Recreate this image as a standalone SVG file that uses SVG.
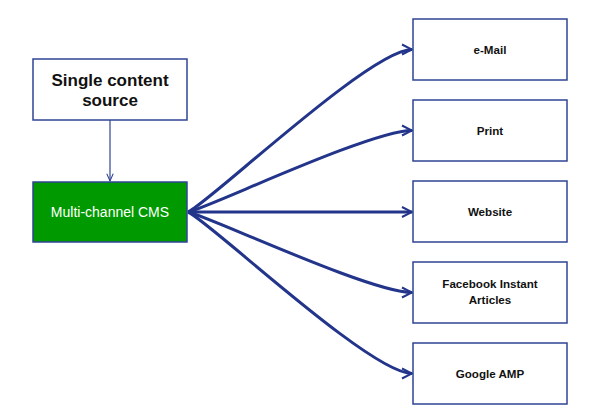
<svg xmlns="http://www.w3.org/2000/svg" width="600" height="420" viewBox="0 0 600 420">
<style>
.box{fill:#ffffff;stroke:#2f4494;stroke-width:1.5}
.cms{fill:#009a00;stroke:#2f4494;stroke-width:1.5}
.t{font-family:"Liberation Sans",Arial,sans-serif;font-weight:bold;fill:#111;text-anchor:middle}
.big{font-size:17px}
.sm{font-size:11.6px}
.wt{font-family:"Liberation Sans",Arial,sans-serif;font-size:14px;fill:#ffffff;text-anchor:middle}
.thick{fill:none;stroke:#23358a;stroke-width:3}
.thin{fill:none;stroke:#2f4494;stroke-width:1.2}
</style>
<defs>
<marker id="ah" viewBox="0 0 12 12" refX="11" refY="6" markerWidth="4" markerHeight="5" markerUnits="strokeWidth" orient="auto">
<path d="M1,1 L11,6 L1,11" fill="none" stroke="#23358a" stroke-width="2"/>
</marker>
<marker id="ah2" viewBox="0 0 12 12" refX="11" refY="6" markerWidth="8" markerHeight="8" markerUnits="strokeWidth" orient="auto">
<path d="M2,2 L11,6 L2,10" fill="none" stroke="#2f4494" stroke-width="1.3"/>
</marker>
</defs>
<g id="connectors">
<path class="thin" d="M110,120 L110,181" marker-end="url(#ah2)"/>
<path class="thick" d="M188,212 C208,204 370,49.5 412,49.5" marker-end="url(#ah)"/>
<path class="thick" d="M188,212 C208,208 370,130.5 412,130.5" marker-end="url(#ah)"/>
<path class="thick" d="M188,212 L412,212" marker-end="url(#ah)"/>
<path class="thick" d="M188,212 C208,216 370,292.5 412,292.5" marker-end="url(#ah)"/>
<path class="thick" d="M188,212 C208,220 370,373.5 412,373.5" marker-end="url(#ah)"/>
</g>
<g id="source">
<rect class="box" x="33" y="59" width="154" height="61"/>
<text class="t big" x="110" y="86">Single content</text>
<text class="t big" x="110" y="106">source</text>
</g>
<g id="cms">
<rect class="cms" x="33" y="182" width="154" height="60"/>
<text class="wt" x="110" y="217">Multi-channel CMS</text>
</g>
<g id="email">
<rect class="box" x="413" y="19" width="154" height="61"/>
<text class="t sm" x="490" y="53.5">e-Mail</text>
</g>
<g id="print">
<rect class="box" x="413" y="100" width="154" height="61"/>
<text class="t sm" x="490" y="134.5">Print</text>
</g>
<g id="website">
<rect class="box" x="413" y="181" width="154" height="61"/>
<text class="t sm" x="490" y="215.5">Website</text>
</g>
<g id="facebook">
<rect class="box" x="413" y="262" width="154" height="61"/>
<text class="t sm" x="490" y="288">Facebook Instant</text>
<text class="t sm" x="490" y="304">Articles</text>
</g>
<g id="amp">
<rect class="box" x="413" y="343" width="154" height="61"/>
<text class="t sm" x="490" y="377.5">Google AMP</text>
</g>
</svg>
